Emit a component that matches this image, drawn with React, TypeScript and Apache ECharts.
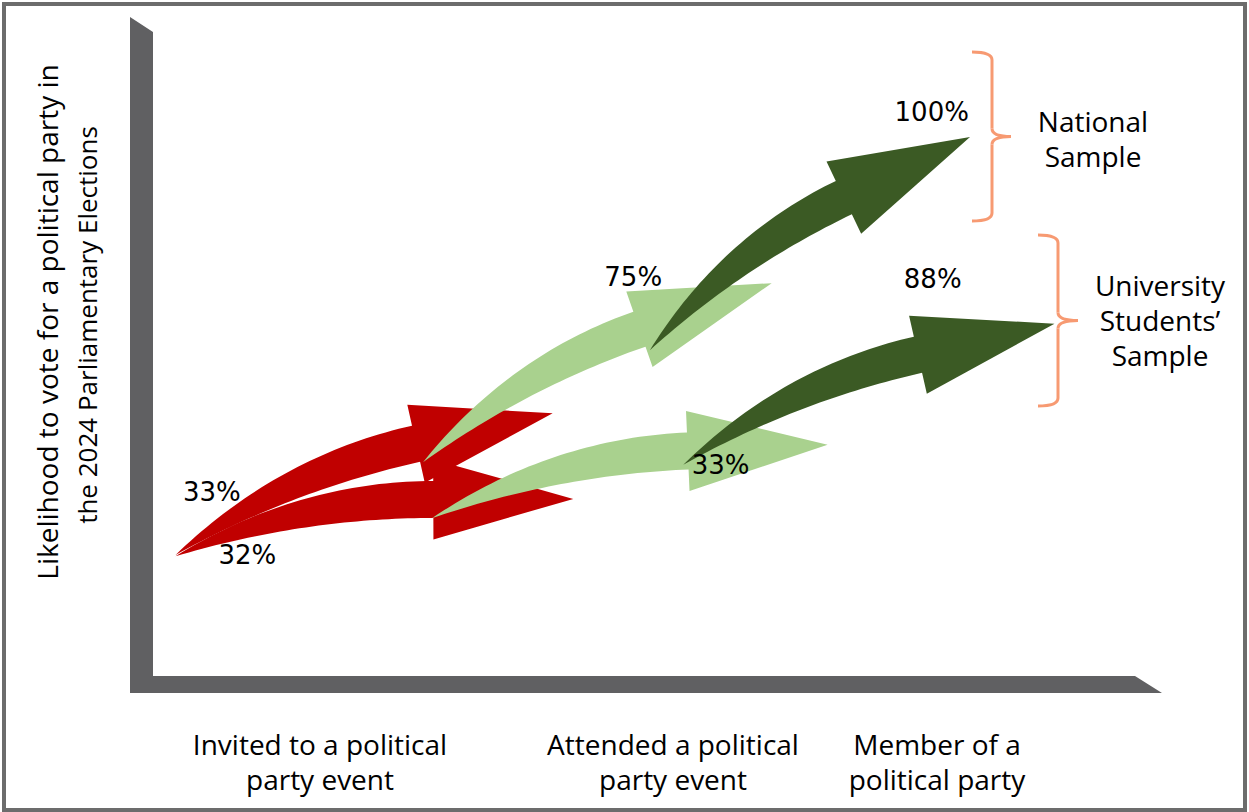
import React, { useEffect, useRef } from "react";
import * as echarts from "echarts";

// ---- data ----
const stages = ["Invited to a political\nparty event", "Attended a political\nparty event", "Member of a\npolitical party"];
const samples = ["National\nSample", "University\nStudents’\nSample"];
const nationalPct = [33, 75, 100];
const universityPct = [32, 33, 88];
// arrow tails and tips, in (progress, likelihood-height) axis units
const nationalTailX = [2.3, 27.5, 50.6];
const nationalTailY = [18.8, 33.2, 50.6];
const nationalTipX = [40.7, 63.0, 83.2];
const nationalTipY = [40.8, 61.0, 83.7];
const universityTailX = [2.3, 28.4, 54.0];
const universityTailY = [18.6, 24.5, 32.8];
const universityTipX = [42.8, 68.7, 91.8];
const universityTipY = [27.5, 35.9, 54.7];
// where the percentage labels sit, in the same axis units
const nationalLabelX = [6.0, 48.9, 79.3];
const nationalLabelY = [28.6, 62.0, 87.6];
const universityLabelX = [9.6, 57.8, 79.4];
const universityLabelY = [18.8, 32.8, 61.6];

const stageColors = ["#C00000", "#A9D18E", "#3B5A24"];
const AXIS_GREY = "#606062";
const BRACE = "#F79A72";
const LABEL_FONT = "'Open Sans', Lato, sans-serif";

const HEAD_LEN = 140;
const HEAD_HALF = 40;
const SHAFT = 37;
const BEND = (8 * Math.PI) / 180;

function arrowPolygon(T: number[], P: number[]) {
  const chord = Math.atan2(P[1] - T[1], P[0] - T[0]);
  const ang = chord + BEND;
  const d = [Math.cos(ang), Math.sin(ang)];
  const B = [P[0] - HEAD_LEN * d[0], P[1] - HEAD_LEN * d[1]];
  const dist = Math.hypot(B[0] - T[0], B[1] - T[1]);
  const k = 0.5 * dist;
  const C = [B[0] - k * d[0], B[1] - k * d[1]];
  const N = 40;
  const top: number[][] = [];
  const bot: number[][] = [];
  for (let i = 0; i <= N; i++) {
    const t = i / N;
    const a = (1 - t) * (1 - t), b = 2 * t * (1 - t), c = t * t;
    const x = a * T[0] + b * C[0] + c * B[0];
    const y = a * T[1] + b * C[1] + c * B[1];
    let tx = 2 * (1 - t) * (C[0] - T[0]) + 2 * t * (B[0] - C[0]);
    let ty = 2 * (1 - t) * (C[1] - T[1]) + 2 * t * (B[1] - C[1]);
    const l = Math.hypot(tx, ty) || 1;
    tx /= l; ty /= l;
    const nx = -ty, ny = tx;
    const w = (SHAFT / 2) * (1 - (1 - t) * (1 - t));
    top.push([x - nx * w, y - ny * w]);
    bot.push([x + nx * w, y + ny * w]);
  }
  const nB = [-d[1], d[0]];
  const pts = [
    ...top,
    [B[0] - nB[0] * HEAD_HALF, B[1] - nB[1] * HEAD_HALF],
    [P[0], P[1]],
    [B[0] + nB[0] * HEAD_HALF, B[1] + nB[1] * HEAD_HALF],
    ...bot.reverse(),
  ];
  return pts;
}

function braceElements(xEnd: number, xLine: number, xTip: number, yTop: number, yBot: number) {
  const yMid = (yTop + yBot) / 2;
  const r = 8;
  const st = { stroke: BRACE, lineWidth: 3, fill: null as any };
  return [
    { type: "bezierCurve", shape: { x1: xEnd, y1: yTop, x2: xLine, y2: yTop + r, cpx1: xLine, cpy1: yTop }, style: st },
    { type: "line", shape: { x1: xLine, y1: yTop + r, x2: xLine, y2: yMid - r }, style: st },
    { type: "bezierCurve", shape: { x1: xLine, y1: yMid - r, x2: xTip, y2: yMid, cpx1: xLine, cpy1: yMid }, style: st },
    { type: "bezierCurve", shape: { x1: xTip, y1: yMid, x2: xLine, y2: yMid + r, cpx1: xLine, cpy1: yMid }, style: st },
    { type: "line", shape: { x1: xLine, y1: yMid + r, x2: xLine, y2: yBot - r }, style: st },
    { type: "bezierCurve", shape: { x1: xLine, y1: yBot - r, x2: xEnd, y2: yBot, cpx1: xLine, cpy1: yBot }, style: st },
  ];
}

export default function App() {
  const ref = useRef<HTMLDivElement>(null);
  useEffect(() => {
    if (!ref.current) return;
    const chart = echarts.init(ref.current, undefined, { renderer: "svg" });

    const arrowSeries = stages.map((name, i) => ({
      name,
      type: "custom",
      clip: false,
      z: 2 + i,
      encode: { x: [0, 2], y: [1, 3] },
      data: [
        [nationalTailX[i], nationalTailY[i], nationalTipX[i], nationalTipY[i]],
        [universityTailX[i], universityTailY[i], universityTipX[i], universityTipY[i]],
      ],
      renderItem: (params: any, api: any) => {
        const T = api.coord([api.value(0), api.value(1)]);
        const P = api.coord([api.value(2), api.value(3)]);
        return { type: "polygon", shape: { points: arrowPolygon(T, P) }, style: { fill: stageColors[i] } };
      },
    }));

    const labelData: any[] = [];
    stages.forEach((_, i) => {
      labelData.push([nationalLabelX[i], nationalLabelY[i], nationalPct[i]]);
      labelData.push([universityLabelX[i], universityLabelY[i], universityPct[i]]);
    });

    const txt = (text: string, x: number, y: number, size: number, extra: any = {}) => ({
      type: "text",
      x,
      y,
      style: { text, fill: "#000", font: `${size}px ${LABEL_FONT}`, align: "center", verticalAlign: "middle", ...extra },
    });

    const stageCenters = [320, 673, 937];
    const graphics: any[] = [
      { type: "rect", shape: { x: 4, y: 4, width: 1241, height: 806 }, style: { fill: null, stroke: "#6c6c6c", lineWidth: 4 }, z: 0 },
      {
        type: "polygon",
        shape: { points: [[130, 17], [153, 32], [153, 676], [1135, 676], [1162, 693], [130, 693]] },
        style: { fill: AXIS_GREY },
        z: 1,
      },
      { ...txt("Likelihood to vote for a political party in", 47, 322, 28), rotation: Math.PI / 2 },
      { ...txt("the 2024 Parliamentary Elections", 87, 325, 26), rotation: Math.PI / 2 },
      ...stages.map((s, i) => txt(s, stageCenters[i], 761.5, 28, { lineHeight: 34.5 })),
      ...braceElements(972, 992, 1011, 52, 221),
      ...braceElements(1038, 1058, 1078, 235, 406),
      txt(samples[0], 1093, 138, 28, { lineHeight: 35 }),
      txt(samples[1], 1160, 320, 28, { lineHeight: 35 }),
    ];

    chart.setOption({
      animation: false,
      grid: { left: 153, top: 32, width: 982, height: 644 },
      xAxis: { type: "value", min: 0, max: 100, show: false },
      yAxis: { type: "value", min: 0, max: 100, show: false },
      series: [
        ...arrowSeries,
        {
          type: "scatter",
          z: 10,
          symbolSize: 1,
          itemStyle: { color: "transparent", opacity: 1 },
          data: labelData,
          label: {
            show: true,
            position: "inside",
            formatter: (p: any) => `${p.value[2]}%`,
            color: "#000",
            opacity: 1,
            fontSize: 26,
            fontFamily: "'DejaVu Sans', sans-serif",
          },
        },
      ],
      graphic: graphics,
    });
    return () => chart.dispose();
  }, []);
  return <div ref={ref} style={{ position: "fixed", left: 0, top: 0, width: 1249, height: 812, background: "#fff" }} />;
}
